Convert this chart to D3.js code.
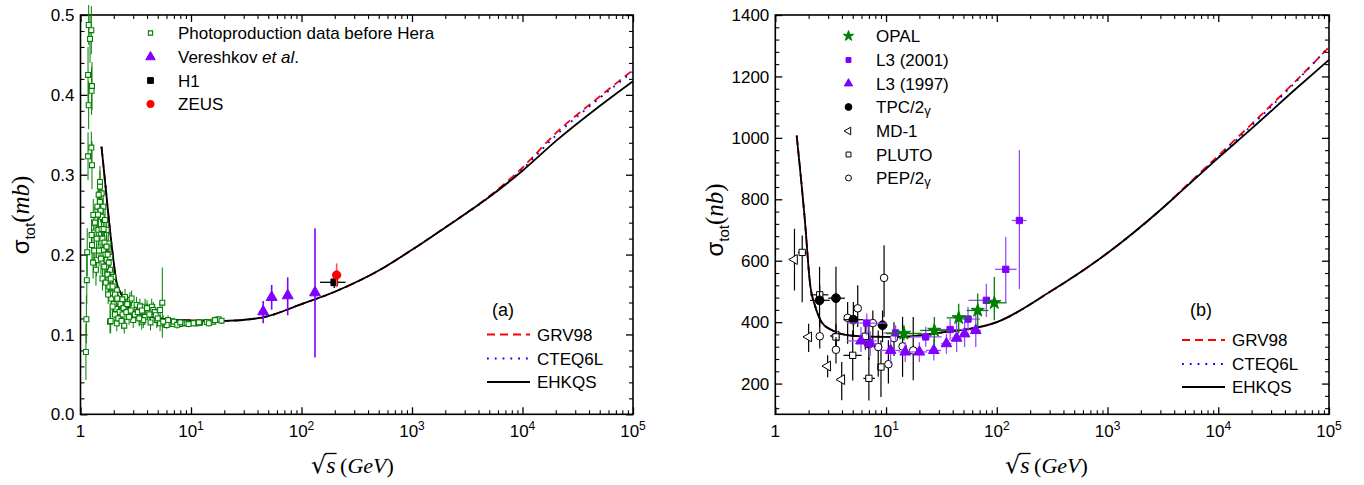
<!DOCTYPE html>
<html>
<head>
<meta charset="utf-8">
<script src="https://cdn.jsdelivr.net/npm/d3@7/dist/d3.min.js"></script>
<style>
  body { margin: 0; background: #fff; }
  text { font-family: "Liberation Sans", Arial, sans-serif; fill: #000; }
</style>
</head>
<body>
<svg id="chart" width="1364" height="485"></svg>
<script>
// ---------- panel (a): gamma-p ----------
// [sqrt_s, sigma_mb, err]
const photoData = [
  [1.12, 0.078, 0.035], [1.13, 0.119, 0.03], [1.14, 0.168, 0.03], [1.15, 0.203, 0.03],
  [1.17, 0.323, 0.03], [1.17, 0.425, 0.035], [1.186, 0.387, 0.03], [1.186, 0.4875, 0.025],
  [1.22, 0.47, 0.03], [1.253, 0.481, 0.03], [1.27, 0.411, 0.03], [1.26, 0.405, 0.03],
  [1.27, 0.312, 0.03], [1.253, 0.334, 0.02],
  [1.26, 0.2245, 0.02], [1.27, 0.212, 0.02], [1.306, 0.2496, 0.02], [1.4, 0.193, 0.02],
  [1.38, 0.181, 0.02], [1.45, 0.231, 0.02], [1.5, 0.291, 0.02], [1.5, 0.285, 0.02],
  [1.556, 0.2767, 0.015], [1.5, 0.266, 0.015], [1.608, 0.26, 0.015], [1.556, 0.2474, 0.015],
  [1.667, 0.2433, 0.015], [1.726, 0.2308, 0.015], [1.786, 0.214, 0.015], [1.608, 0.2057, 0.015],
  [1.726, 0.1932, 0.015], [1.85, 0.197, 0.015], [1.85, 0.181, 0.015], [1.98, 0.172, 0.01],
  [1.786, 0.168, 0.015], [2.13, 0.1556, 0.01], [1.92, 0.1515, 0.01], [2.2, 0.141, 0.01],
  [2.53, 0.147, 0.01], [2.8, 0.143, 0.01], [3.22, 0.137, 0.01], [3.84, 0.1347, 0.01],
  [4.41, 0.1347, 0.01], [5.25, 0.1306, 0.01], [5.5, 0.1398, 0.044],
  [1.85, 0.116, 0.015], [2.13, 0.114, 0.01], [2.53, 0.1222, 0.01], [3.0, 0.118, 0.01],
  [3.58, 0.116, 0.01], [3.84, 0.122, 0.01], [4.9, 0.118, 0.01], [6.45, 0.114, 0.005],
  [8.5, 0.114, 0.004], [11.2, 0.114, 0.004],
  [1.875, 0.1168, 0.015], [2.49, 0.111, 0.01], [3.7, 0.118, 0.01], [2.39, 0.144, 0.01],
  [2.9, 0.145, 0.01], [3.45, 0.135, 0.01], [4.0, 0.133, 0.01], [4.56, 0.1306, 0.01],
  [4.7, 0.128, 0.01], [5.25, 0.114, 0.01], [6.03, 0.1118, 0.005], [6.92, 0.113, 0.004],
  [7.95, 0.113, 0.004], [9.14, 0.114, 0.004], [10.5, 0.114, 0.004], [12.06, 0.1147, 0.004],
  [13.9, 0.1156, 0.004], [15.9, 0.116, 0.004], [17.7, 0.119, 0.004], [18.9, 0.1172, 0.004],
  [1.35, 0.24, 0.02], [1.42, 0.26, 0.02], [1.46, 0.275, 0.02], [1.52, 0.255, 0.015],
  [1.55, 0.232, 0.015], [1.58, 0.22, 0.015], [1.62, 0.232, 0.015], [1.65, 0.215, 0.015],
  [1.68, 0.2, 0.015], [1.7, 0.185, 0.015], [1.72, 0.21, 0.015], [1.75, 0.175, 0.015],
  [1.76, 0.2, 0.015], [1.8, 0.19, 0.015], [1.82, 0.16, 0.015], [1.88, 0.17, 0.012],
  [1.9, 0.145, 0.012], [1.95, 0.16, 0.012], [2.0, 0.138, 0.012], [2.05, 0.15, 0.01],
  [2.1, 0.132, 0.01], [2.15, 0.145, 0.01], [2.25, 0.128, 0.01], [2.3, 0.138, 0.01],
  [2.4, 0.125, 0.01], [2.45, 0.133, 0.01], [2.6, 0.128, 0.01], [2.65, 0.138, 0.01],
  [2.75, 0.122, 0.01], [2.85, 0.13, 0.01], [3.1, 0.125, 0.01], [3.3, 0.128, 0.01],
  [3.4, 0.12, 0.01], [3.6, 0.13, 0.01], [4.2, 0.125, 0.01], [4.3, 0.115, 0.01],
  [4.8, 0.124, 0.01], [5.0, 0.12, 0.01], [5.6, 0.116, 0.008], [6.2, 0.118, 0.006],
  [7.0, 0.116, 0.005], [7.5, 0.112, 0.005], [8.0, 0.115, 0.004], [9.5, 0.113, 0.004],
  [11.8, 0.115, 0.004], [14.5, 0.114, 0.004], [16.5, 0.118, 0.004],
  [1.3, 0.19, 0.02], [1.33, 0.205, 0.02], [1.4, 0.22, 0.02], [1.44, 0.25, 0.02],
  [1.47, 0.205, 0.02], [1.53, 0.195, 0.02],
  [1.58, 0.17, 0.015], [1.64, 0.185, 0.015], [1.69, 0.165, 0.015], [1.78, 0.15, 0.012],
  [1.95, 0.135, 0.012], [2.05, 0.125, 0.01], [2.2, 0.12, 0.01], [2.35, 0.117, 0.01]
];
// [sqrt_s, sigma, low, high]
const vereshkovData = [
  [45, 0.1285, 0.114, 0.142], [53.7, 0.1465, 0.131, 0.162],
  [75, 0.1486, 0.124, 0.1715], [132.5, 0.1523, 0.071, 0.233]
];
// [sqrt_s, sigma, low, high, xLow, xHigh]
const h1Data = [[198, 0.1653, 0.158, 0.172, 147, 251]];
const zeusData = [[208, 0.1744, 0.159, 0.189]];

const grvA = [[1.55, 0.335], [1.7, 0.28], [1.85, 0.23], [2.0, 0.19], [2.12, 0.165], [2.4, 0.148],
  [2.67, 0.135], [3.2, 0.127], [4, 0.123], [6, 0.119], [10, 0.1175], [20, 0.117], [45, 0.1215],
  [100, 0.138], [200, 0.1535], [500, 0.18], [1000, 0.206], [2000, 0.234], [5000, 0.273],
  [10000, 0.309], [20000, 0.352], [50000, 0.398], [100000, 0.431]];
const cteqA = [[1.55, 0.335], [1.7, 0.28], [1.85, 0.23], [2.0, 0.19], [2.12, 0.165], [2.4, 0.148],
  [2.67, 0.135], [3.2, 0.127], [4, 0.123], [6, 0.119], [10, 0.1175], [20, 0.117], [45, 0.1215],
  [100, 0.138], [200, 0.1535], [500, 0.18], [1000, 0.206], [2000, 0.234], [5000, 0.272],
  [10000, 0.307], [20000, 0.349], [50000, 0.396], [100000, 0.429]];
const ehkqsA = [[1.55, 0.335], [1.7, 0.28], [1.85, 0.23], [2.0, 0.19], [2.12, 0.165], [2.4, 0.148],
  [2.67, 0.135], [3.2, 0.127], [4, 0.123], [6, 0.119], [10, 0.1175], [20, 0.117], [45, 0.1215],
  [100, 0.138], [200, 0.1535], [500, 0.18], [1000, 0.206], [2000, 0.234], [5000, 0.272],
  [10000, 0.305], [20000, 0.342], [50000, 0.386], [100000, 0.417]];

// ---------- panel (b): gamma-gamma ----------
const opalData = [
  [14.5, 363, 340, 390, 10, 21], [27.3, 373, 325, 417, 20.3, 37.9],
  [45.3, 414, 363, 460, 35.3, 59.4], [67.3, 438, 384, 493, 53.5, 84],
  [95, 463, 406, 547, 75.7, 123]
];
const l3_2001Data = [
  [6.7, 397, 357, 428, 4.4, 10.1], [12.2, 365, 340, 390, 9.5, 16],
  [22.8, 352, 320, 385, 16.5, 31.8], [37.9, 376, 340, 410, 27.7, 50],
  [55, 410, 370, 450, 43.5, 70.6], [80.5, 471, 417, 525, 55.5, 100],
  [120.5, 572, 465, 677, 96.4, 151], [160, 731, 508, 960, 136.5, 186]
];
const l3_1997Data = [
  [5.94, 339, 303, 384, 4.4, 8.2], [7.2, 330, 290, 370, 6.2, 8.4],
  [11.0, 308, 265, 352, 8.8, 13.4], [14.9, 303, 270, 335, 13, 17],
  [20, 303, 270, 335, 17, 23.5], [27, 308, 275, 345, 23, 31.5],
  [35.1, 330, 297, 362, 31.5, 39], [43.4, 348, 303, 406, 39, 48],
  [51.2, 362, 319, 400, 47, 56], [64.6, 373, 319, 438, 58, 72]
];
const tpcData = [
  [2.51, 471, 384, 580, 2.06, 3.1], [3.53, 478, 384, 580, 3.0, 4.26],
  [5.07, 408, 352, 466, 4.12, 6.24], [7.0, 330, 276, 384, 6.2, 7.8],
  [9.3, 390, 335, 438, 8.4, 10.3]
];
const md1Data = [
  [1.49, 604, 503, 704], [2.0, 352, 303, 395], [2.97, 257, 221, 292],
  [3.98, 213, 146, 270], [3.53, 355, 308, 395]
];
const plutoData = [
  [1.75, 627, 465, 682, 1.6, 1.9], [2.52, 489, 455, 520, 2.06, 3.01],
  [3.53, 352, 320, 385, 3.3, 3.8], [5.0, 292, 210, 373, 4.12, 6.03],
  [6.5, 354, 310, 400, 6.0, 7.0], [7.0, 217, 145, 287, 6.24, 7.95],
  [9.0, 254, 156, 341, 8.5, 9.5]
];
const pepData = [
  [2.52, 354, 314, 417], [3.53, 310, 265, 352], [4.5, 414, 330, 466],
  [5.55, 445, 384, 520], [7.6, 397, 330, 438], [8.5, 319, 222, 373],
  [9.6, 544, 417, 650], [10.5, 263, 200, 341], [11.8, 348, 290, 400],
  [14.1, 321, 222, 417], [17.6, 308, 211, 417]
];

const grvB = [[1.56, 1007], [1.85, 731], [2.06, 525], [2.3, 450], [2.62, 400], [3.2, 375],
  [4.1, 360], [6, 354], [13.4, 352], [30, 365], [100, 400], [300, 498], [1000, 625],
  [3000, 765], [5000, 840], [10000, 942], [20000, 1045], [50000, 1185], [100000, 1295]];
const cteqB = [[1.56, 1007], [1.85, 731], [2.06, 525], [2.3, 450], [2.62, 400], [3.2, 375],
  [4.1, 360], [6, 354], [13.4, 352], [30, 365], [100, 400], [300, 498], [1000, 625],
  [3000, 765], [5000, 838], [10000, 938], [20000, 1040], [50000, 1182], [100000, 1297]];
const ehkqsB = [[1.56, 1007], [1.85, 731], [2.06, 525], [2.3, 450], [2.62, 400], [3.2, 375],
  [4.1, 360], [6, 354], [13.4, 352], [30, 365], [100, 400], [300, 498], [1000, 625],
  [3000, 765], [5000, 837], [10000, 935], [20000, 1030], [50000, 1159], [100000, 1254]];

// ---------- tick labels ----------
const xTickValues = [1, 10, 100, 1000, 10000, 100000];
const xTickExps = ['', '1', '2', '3', '4', '5'];
const yTicksA = [0, 0.1, 0.2, 0.3, 0.4, 0.5];
const yTicksB = [200, 400, 600, 800, 1000, 1200, 1400];

const GREEN = '#008000', PURPLE = '#8000ff', RED = '#ff0000', BLUE = '#0000ff';

const svg = d3.select('#chart');
svg.append('rect').attr('width', 1364).attr('height', 485).attr('fill', '#fff');

const logMinors = [];
for (let k = 0; k < 5; k++) for (let m = 2; m <= 9; m++) logMinors.push(m * Math.pow(10, k));

function makePanel(cfg) {
  const x = d3.scaleLog().domain([1, 1e5]).range([cfg.left, cfg.right]);
  const y = d3.scaleLinear().domain(cfg.yDomain).range([414.3, 15]);
  const g = svg.append('g');

  const frame = g.append('g').attr('stroke', '#000');
  const axes = [
    [d3.axisBottom(x), `translate(0,${y.range()[0]})`, xTickValues, logMinors],
    [d3.axisTop(x), `translate(0,${y.range()[1]})`, xTickValues, logMinors],
    [d3.axisLeft(y), `translate(${cfg.left},0)`, cfg.yMajor, cfg.yMinor],
    [d3.axisRight(y), `translate(${cfg.right},0)`, cfg.yMajor, cfg.yMinor]
  ];
  axes.forEach(([ax, tr, maj, min]) => {
    frame.append('g').attr('transform', tr)
      .call(ax.tickValues(maj).tickSize(-7).tickFormat(''))
      .call(s => s.select('.domain').remove())
      .selectAll('line').attr('stroke-width', 1.3);
    frame.append('g').attr('transform', tr)
      .call(ax.tickValues(min).tickSize(-4).tickFormat(''))
      .call(s => s.select('.domain').remove())
      .selectAll('line').attr('stroke-width', 1.1);
  });
  g.append('rect')
    .attr('x', cfg.left).attr('y', 15)
    .attr('width', cfg.right - cfg.left).attr('height', 414.3 - 15)
    .attr('fill', 'none').attr('stroke', '#000').attr('stroke-width', 1.6);

  // x tick labels
  xTickValues.forEach((v, i) => {
    const t = g.append('text').attr('x', x(v)).attr('y', 437)
      .attr('text-anchor', 'middle').attr('font-size', 17);
    if (xTickExps[i]) {
      t.append('tspan').text('10');
      t.append('tspan').attr('dy', -7).attr('font-size', 12).text(xTickExps[i]);
    } else {
      t.text('1');
    }
  });
  // y tick labels
  cfg.yMajor.forEach(v => {
    g.append('text').attr('x', cfg.left - 6).attr('y', y(v)).attr('dy', '0.36em')
      .attr('text-anchor', 'end').attr('font-size', 17).text(cfg.yFmt(v));
  });

  // y title
  const yt = g.append('text')
    .attr('transform', `translate(${cfg.yTitleX},${cfg.yTitleY}) rotate(-90)`)
    .attr('text-anchor', 'middle');
  yt.append('tspan').attr('font-size', 24).text('σ');
  yt.append('tspan').attr('font-size', 15).attr('dy', 6).text('tot');
  yt.append('tspan').attr('font-size', 25).attr('dy', -6)
    .style('font-family', '"Liberation Serif", serif').text('(');
  yt.append('tspan').attr('font-size', 25).attr('font-style', 'italic')
    .style('font-family', '"Liberation Serif", serif').text(cfg.unit);
  yt.append('tspan').attr('font-size', 25)
    .style('font-family', '"Liberation Serif", serif').text(')');

  // x title
  const xt = g.append('text').attr('x', cfg.xTitleX).attr('y', 473);
  xt.append('tspan').attr('font-size', 24).style('font-family', '"DejaVu Sans", sans-serif').text('√');
  xt.append('tspan').attr('font-size', 24).attr('font-style', 'italic')
    .style('font-family', '"Liberation Serif", serif').text('s');
  xt.append('tspan').attr('font-size', 22)
    .style('font-family', '"Liberation Serif", serif').text('\u2009(');
  xt.append('tspan').attr('font-size', 22).attr('font-style', 'italic')
    .style('font-family', '"Liberation Serif", serif').text('GeV');
  xt.append('tspan').attr('font-size', 22)
    .style('font-family', '"Liberation Serif", serif').text(')');
  const node = xt.node();
  const sx0 = node.getStartPositionOfChar(1).x, sx1 = node.getEndPositionOfChar(1).x;
  g.append('line').attr('x1', sx0 - 1).attr('x2', sx1 + 1)
    .attr('y1', 473 - 19.5).attr('y2', 473 - 19.5)
    .attr('stroke', '#000').attr('stroke-width', 1.3);

  return { g, x, y };
}

function drawCurves(p, grv, cteq, ehkqs) {
  const line = d3.line().x(d => p.x(d[0])).y(d => p.y(d[1])).curve(d3.curveMonotoneX);
  const c = p.g.append('g').attr('fill', 'none');
  c.append('path').attr('d', line(grv)).attr('stroke', RED).attr('stroke-width', 1.8)
    .attr('stroke-dasharray', '8,5');
  c.append('path').attr('d', line(cteq)).attr('stroke', BLUE).attr('stroke-width', 1.8)
    .attr('stroke-dasharray', '1.8,6');
  c.append('path').attr('d', line(ehkqs)).attr('stroke', '#000').attr('stroke-width', 1.8);
}

// generic points with error bars: d = [x, y, lo, hi, xlo, xhi]
function drawPoints(p, data, o) {
  const g = p.g.append('g');
  data.forEach(d => {
    const lo = o.err ? d[1] - d[2] : d[2], hi = o.err ? d[1] + d[2] : d[3];
    g.append('line').attr('x1', p.x(d[0])).attr('x2', p.x(d[0]))
      .attr('y1', p.y(lo)).attr('y2', p.y(hi))
      .attr('stroke', o.bar).attr('stroke-width', o.bw || 1.3);
    if (!o.err && d.length > 4) {
      g.append('line').attr('x1', p.x(d[4])).attr('x2', p.x(d[5]))
        .attr('y1', p.y(d[1])).attr('y2', p.y(d[1]))
        .attr('stroke', o.bar).attr('stroke-width', o.bw || 1.3);
    }
  });
  g.selectAll('path.m').data(data).join('path').attr('class', 'm')
    .attr('transform', d => `translate(${p.x(d[0])},${p.y(d[1])}) rotate(${o.rot || 0})`)
    .attr('d', d3.symbol(o.type, o.size))
    .attr('fill', o.fill).attr('stroke', o.stroke).attr('stroke-width', o.sw || 1);
}

function legendMarker(g, cx, cy, o) {
  g.append('path').attr('transform', `translate(${cx},${cy}) rotate(${o.rot || 0})`)
    .attr('d', d3.symbol(o.type, o.size))
    .attr('fill', o.fill).attr('stroke', o.stroke).attr('stroke-width', o.sw || 1);
}

// ---------- panel (a) ----------
const yMinorA = d3.range(0, 51, 2).filter(v => v % 10 !== 0).map(v => v / 100);
const pA = makePanel({
  left: 80.5, right: 633, yDomain: [0, 0.5], yMajor: yTicksA, yMinor: yMinorA,
  yFmt: d3.format('.1f'), unit: 'mb', yTitleX: 29, yTitleY: 215, xTitleX: 311
});
drawCurves(pA, grvA, cteqA, ehkqsA);

const photoStyle = { type: d3.symbolSquare, size: 24, fill: '#fff', stroke: GREEN, sw: 1.1, bar: GREEN, bw: 1, err: true };
const verStyle = { type: d3.symbolTriangle, size: 52, fill: PURPLE, stroke: PURPLE, bar: PURPLE, bw: 1.6 };
const h1Style = { type: d3.symbolSquare, size: 45, fill: '#000', stroke: '#000', bar: '#000' };
const zeusStyle = { type: d3.symbolCircle, size: 55, fill: RED, stroke: RED, bar: '#ff5050', bw: 1.6 };
drawPoints(pA, photoData, photoStyle);
drawPoints(pA, vereshkovData, verStyle);
drawPoints(pA, h1Data, h1Style);
drawPoints(pA, zeusData, zeusStyle);

const legA = pA.g.append('g');
const legAItems = [
  [photoStyle, 'Photoproduction data before Hera', 33],
  [verStyle, 'Vereshkov', 57],
  [h1Style, 'H1', 80.5],
  [zeusStyle, 'ZEUS', 104]
];
legAItems.forEach(([st, label, yy]) => {
  legendMarker(legA, 150.5, yy, Object.assign({}, st, { size: st.size * 0.75 }));
  const t = legA.append('text').attr('x', 178).attr('y', yy + 6).attr('font-size', 17).text(label);
  if (label === 'Vereshkov') {
    t.append('tspan').attr('font-style', 'italic').text(' et al');
    t.append('tspan').text('.');
  }
});
pA.g.append('text').attr('x', 492).attr('y', 316).attr('font-size', 18).text('(a)');

function lineLegend(p, x0, x1, tx, rows) {
  const lg = p.g.append('g');
  const styles = [[RED, '8,5'], [BLUE, '1.8,6'], ['#000', null]];
  ['GRV98', 'CTEQ6L', 'EHKQS'].forEach((name, i) => {
    const l = lg.append('line').attr('x1', x0).attr('x2', x1).attr('y1', rows[i]).attr('y2', rows[i])
      .attr('stroke', styles[i][0]).attr('stroke-width', 1.8);
    if (styles[i][1]) l.attr('stroke-dasharray', styles[i][1]);
    lg.append('text').attr('x', tx).attr('y', rows[i] + 6).attr('font-size', 17).text(name);
  });
}
lineLegend(pA, 487, 530, 537, [334.5, 358.5, 382]);

// ---------- panel (b) ----------
const yMinorB = d3.range(120, 1401, 40).filter(v => v % 200 !== 0);
const pB = makePanel({
  left: 775.3, right: 1329, yDomain: [100, 1400], yMajor: yTicksB, yMinor: yMinorB,
  yFmt: d3.format('d'), unit: 'nb', yTitleX: 723, yTitleY: 220, xTitleX: 1005
});
drawCurves(pB, grvB, cteqB, ehkqsB);

const md1Style = { type: d3.symbolTriangle, size: 42, fill: '#fff', stroke: '#000', rot: -90, bar: '#000', bw: 1.2 };
const plutoStyle = { type: d3.symbolSquare, size: 40, fill: '#fff', stroke: '#000', bar: '#000', bw: 1.2 };
const pepStyle = { type: d3.symbolCircle, size: 45, fill: '#fff', stroke: '#000', bar: '#000', bw: 1.2 };
const tpcStyle = { type: d3.symbolCircle, size: 60, fill: '#000', stroke: '#000', bar: '#000', bw: 1.2 };
const l3aStyle = { type: d3.symbolTriangle, size: 50, fill: PURPLE, stroke: PURPLE, bar: '#9a4dff', bw: 1.3 };
const l3bStyle = { type: d3.symbolSquare, size: 40, fill: PURPLE, stroke: PURPLE, bar: '#9a4dff', bw: 1.3 };
const opalStyle = { type: d3.symbolStar, size: 55, fill: GREEN, stroke: GREEN, bar: GREEN, bw: 1.3 };

drawPoints(pB, md1Data, md1Style);
drawPoints(pB, plutoData, plutoStyle);
drawPoints(pB, pepData, pepStyle);
drawPoints(pB, tpcData, tpcStyle);
drawPoints(pB, l3_1997Data, l3aStyle);
drawPoints(pB, l3_2001Data, l3bStyle);
drawPoints(pB, opalData, opalStyle);

const legB = pB.g.append('g');
const legBItems = [
  [opalStyle, 'OPAL', 36], [l3bStyle, 'L3 (2001)', 60], [l3aStyle, 'L3 (1997)', 83.5],
  [tpcStyle, 'TPC/2', 107], [md1Style, 'MD-1', 131], [plutoStyle, 'PLUTO', 154.5],
  [pepStyle, 'PEP/2', 178]
];
legBItems.forEach(([st, label, yy]) => {
  legendMarker(legB, 848.5, yy, Object.assign({}, st, { size: st.size * 0.6 }));
  const t = legB.append('text').attr('x', 876).attr('y', yy + 6).attr('font-size', 17).text(label);
  if (label.endsWith('/2')) t.append('tspan').attr('font-size', 13).attr('dy', 2).text('γ');
});
pB.g.append('text').attr('x', 1190).attr('y', 316).attr('font-size', 18).text('(b)');
lineLegend(pB, 1182, 1225, 1232, [340, 364, 387]);
</script>
</body>
</html>
